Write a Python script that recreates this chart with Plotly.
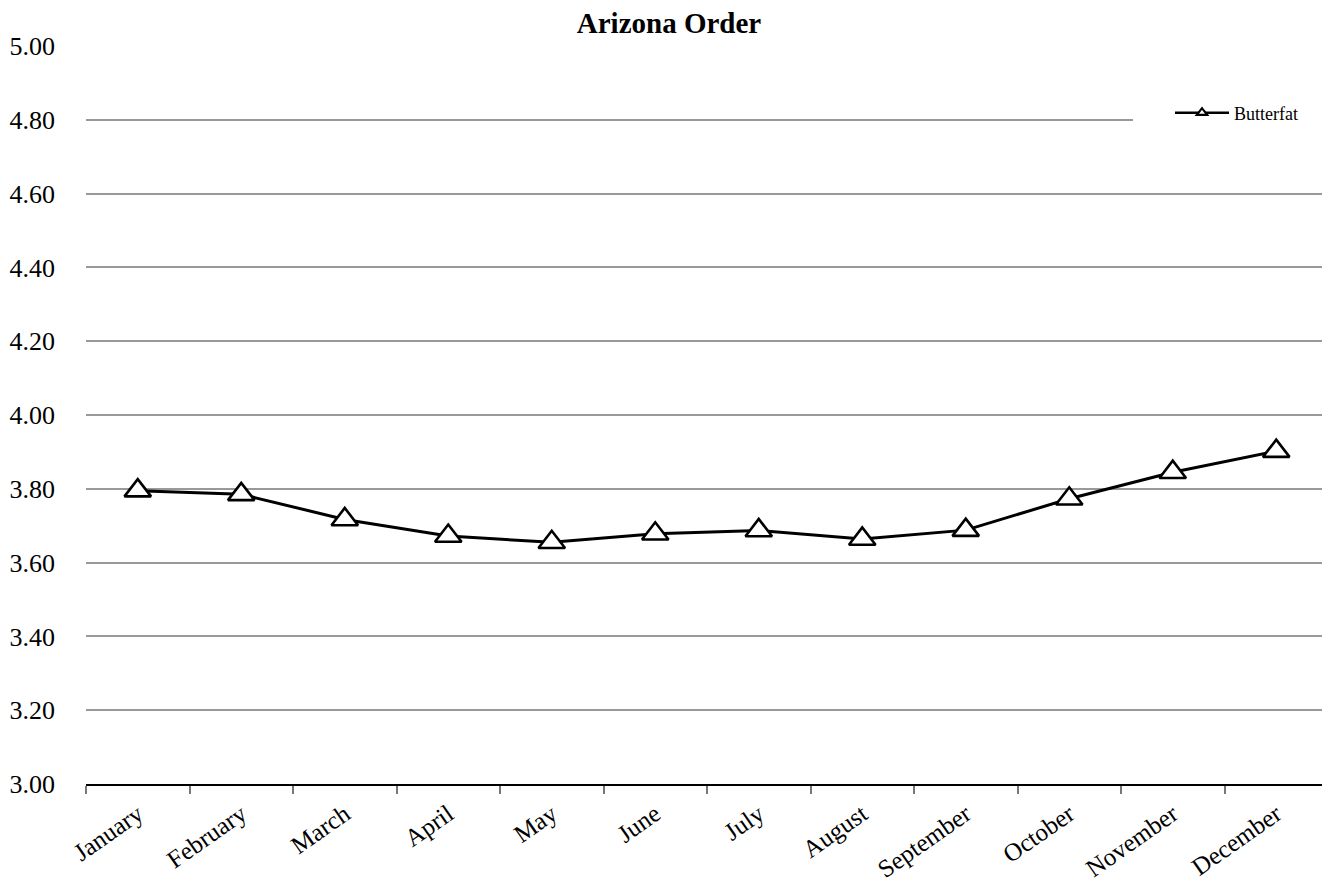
import plotly.graph_objects as go

months = ["January", "February", "March", "April", "May", "June", "July",
          "August", "September", "October", "November", "December"]
butterfat = [3.795, 3.785, 3.717, 3.672, 3.655, 3.678, 3.687, 3.664, 3.688, 3.773, 3.845, 3.902]
y_ticks = [3.0, 3.2, 3.4, 3.6, 3.8, 4.0, 4.2, 4.4, 4.6, 4.8, 5.0]
series_name = "Butterfat"
title_text = "Arizona Order"

FONT = "Liberation Serif, Times New Roman, serif"

# the page body adds an 8px offset; size the figure so the visible frame matches
W, H = 1322, 875
L, R, T, B = 78, 2, 38, 99

fig = go.Figure()
fig.add_trace(go.Scatter(
    x=months, y=butterfat, mode="lines+markers", name=series_name,
    showlegend=False,
    line=dict(color="black", width=3),
    marker=dict(symbol="triangle-up", size=23, color="white",
                line=dict(color="black", width=2.6)),
))
# legend entry with small marker, like the original
fig.add_trace(go.Scatter(
    x=[None], y=[None], mode="lines+markers", name=series_name,
    line=dict(color="black", width=2.5),
    marker=dict(symbol="triangle-up", size=9, color="white",
                line=dict(color="black", width=2.2)),
))

fig.update_layout(
    width=W, height=H,
    margin=dict(l=L, r=R, t=T, b=B),
    paper_bgcolor="white", plot_bgcolor="white",
    font=dict(family=FONT, color="black"),
    title=dict(text="<b>" + title_text + "</b>", x=0.5, xanchor="center",
               y=1 - 15 / H, yanchor="middle", font=dict(size=29, family=FONT)),
    showlegend=True,
    legend=dict(x=1.0, xanchor="right", y=(784 - 113) / 738, yanchor="middle",
                orientation="h", entrywidth=89, indentation=37,
                bgcolor="white", font=dict(size=18, family=FONT),
                borderwidth=0, itemwidth=54),
)
fig.update_xaxes(
    type="category", categoryorder="array", categoryarray=months,
    showline=True, linecolor="black", linewidth=1.5,
    ticks="outside", tickson="boundaries", ticklen=8, tickcolor="#777777", tickwidth=1.5,
    tickangle=-35, tickfont=dict(size=25, family=FONT), ticklabelstandoff=4,
    showgrid=False, range=[-0.5, 11.5], automargin=False,
)
fig.update_yaxes(
    range=[3.0, 5.0], tickvals=y_ticks, tickformat=".2f",
    showgrid=True, gridcolor="#999999", gridwidth=2,
    zeroline=False, showline=False, automargin=False,
    tickfont=dict(size=26, family=FONT), ticklabelstandoff=30,
)

fig.write_html("out.html")
